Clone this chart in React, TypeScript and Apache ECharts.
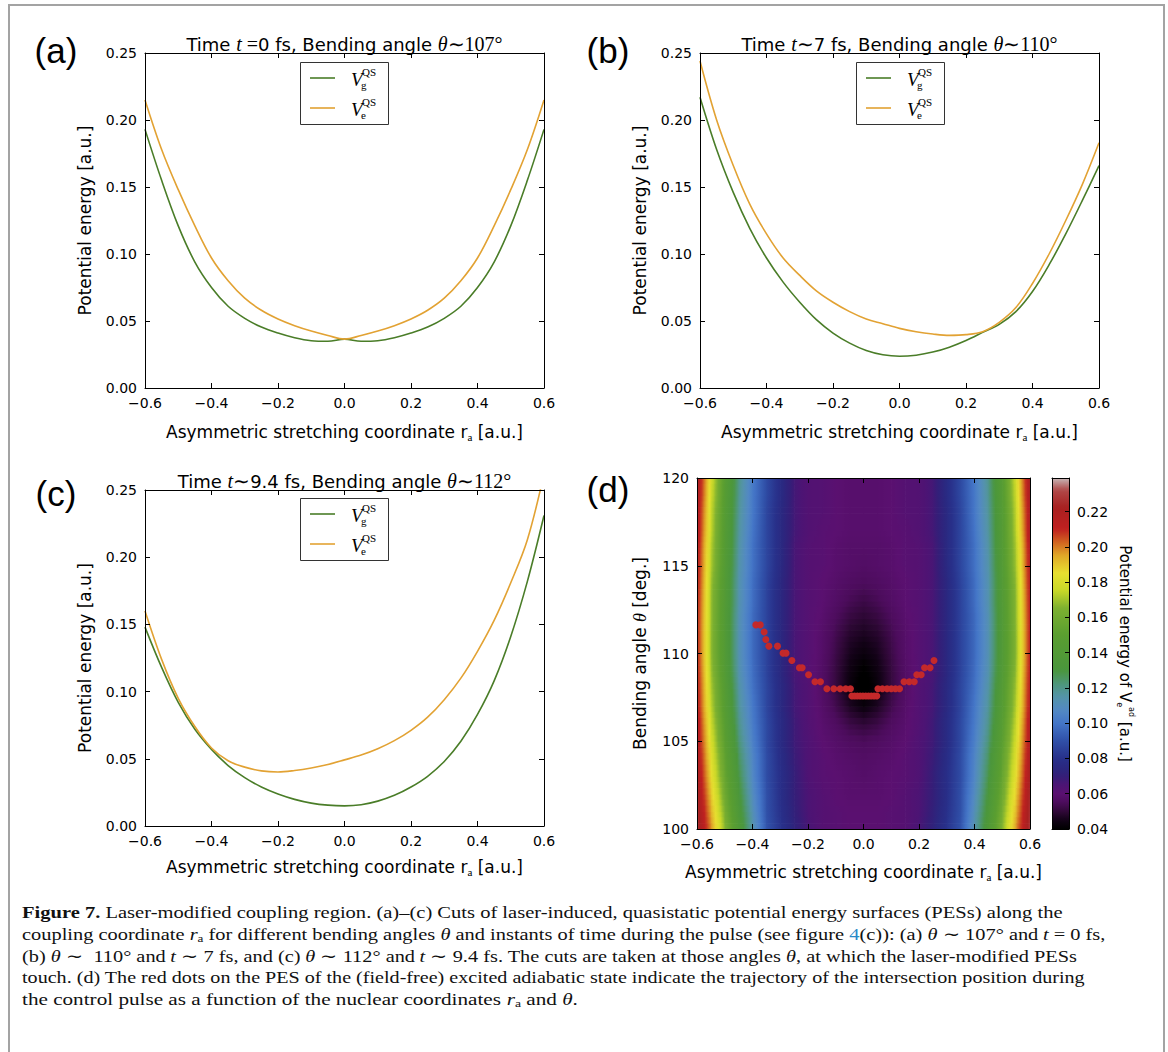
import React, { useEffect, useRef } from "react";
import * as echarts from "echarts";

// ------------------------------------------------------------------ data
const raGrid = [-0.6, -0.55, -0.5, -0.45, -0.4, -0.35, -0.3, -0.25, -0.2, -0.15, -0.1, -0.05, 0, 0.05, 0.1, 0.15, 0.2, 0.25, 0.3, 0.35, 0.4, 0.45, 0.5, 0.55, 0.6];

const panelAGround = [0.193, 0.155, 0.121, 0.094, 0.075, 0.061, 0.052, 0.0455, 0.041, 0.0375, 0.0353, 0.0349, 0.0365, 0.0349, 0.0353, 0.0375, 0.041, 0.0455, 0.052, 0.061, 0.075, 0.094, 0.121, 0.155, 0.193];
const panelAExcited = [0.215, 0.178, 0.148, 0.121, 0.097, 0.08, 0.067, 0.058, 0.0515, 0.0465, 0.0425, 0.0392, 0.0365, 0.0392, 0.0425, 0.0465, 0.0515, 0.058, 0.067, 0.08, 0.097, 0.121, 0.148, 0.178, 0.215];

const panelBGround = [0.217, 0.178, 0.146, 0.119, 0.097, 0.079, 0.064, 0.051, 0.041, 0.0335, 0.028, 0.0248, 0.0237, 0.0245, 0.0268, 0.0305, 0.0355, 0.0415, 0.0475, 0.057, 0.072, 0.092, 0.115, 0.14, 0.166];
const panelBExcited = [0.244, 0.2, 0.166, 0.137, 0.115, 0.097, 0.084, 0.0725, 0.064, 0.057, 0.0515, 0.048, 0.0445, 0.042, 0.0403, 0.0393, 0.0398, 0.042, 0.049, 0.06, 0.078, 0.1, 0.125, 0.152, 0.183];

const panelCGround = [0.148, 0.118, 0.092, 0.072, 0.057, 0.045, 0.036, 0.029, 0.0238, 0.0198, 0.017, 0.0155, 0.015, 0.0158, 0.0185, 0.0228, 0.029, 0.037, 0.048, 0.063, 0.083, 0.108, 0.141, 0.182, 0.231];
const panelCExcited = [0.16, 0.124, 0.095, 0.074, 0.058, 0.0485, 0.0438, 0.041, 0.0402, 0.0413, 0.0432, 0.0458, 0.0492, 0.0528, 0.0575, 0.0635, 0.0712, 0.081, 0.094, 0.11, 0.13, 0.153, 0.181, 0.213, 0.262];

const thetaRows = [100, 101, 102, 103, 104, 105, 106, 107, 108, 109, 110, 111, 112, 113, 114, 115, 116, 117, 118, 119, 120];
const peExcited = [
  [0.228, 0.198, 0.166, 0.138, 0.114, 0.091, 0.081, 0.072, 0.066, 0.062, 0.061, 0.06, 0.06, 0.06, 0.061, 0.062, 0.066, 0.072, 0.081, 0.091, 0.114, 0.138, 0.166, 0.198, 0.228],
  [0.226, 0.194, 0.163, 0.135, 0.112, 0.09, 0.08, 0.071, 0.065, 0.062, 0.061, 0.06, 0.06, 0.06, 0.061, 0.062, 0.065, 0.071, 0.08, 0.09, 0.112, 0.135, 0.163, 0.194, 0.226],
  [0.224, 0.19, 0.159, 0.132, 0.109, 0.09, 0.079, 0.07, 0.065, 0.062, 0.06, 0.059, 0.059, 0.059, 0.06, 0.062, 0.065, 0.07, 0.079, 0.09, 0.109, 0.132, 0.159, 0.19, 0.224],
  [0.222, 0.186, 0.156, 0.129, 0.107, 0.089, 0.079, 0.07, 0.064, 0.061, 0.06, 0.059, 0.058, 0.059, 0.06, 0.061, 0.064, 0.07, 0.079, 0.089, 0.107, 0.129, 0.156, 0.186, 0.222],
  [0.22, 0.183, 0.153, 0.126, 0.106, 0.089, 0.078, 0.069, 0.064, 0.061, 0.059, 0.058, 0.057, 0.058, 0.059, 0.061, 0.064, 0.069, 0.078, 0.089, 0.106, 0.126, 0.153, 0.183, 0.22],
  [0.218, 0.18, 0.15, 0.123, 0.104, 0.088, 0.077, 0.068, 0.064, 0.06, 0.058, 0.056, 0.055, 0.056, 0.058, 0.06, 0.064, 0.068, 0.077, 0.088, 0.104, 0.123, 0.15, 0.18, 0.218],
  [0.217, 0.177, 0.147, 0.12, 0.102, 0.088, 0.077, 0.068, 0.063, 0.059, 0.056, 0.052, 0.05, 0.052, 0.056, 0.059, 0.063, 0.068, 0.077, 0.088, 0.102, 0.12, 0.147, 0.177, 0.217],
  [0.215, 0.174, 0.145, 0.118, 0.101, 0.087, 0.076, 0.067, 0.063, 0.058, 0.053, 0.047, 0.043, 0.047, 0.053, 0.058, 0.063, 0.067, 0.076, 0.087, 0.101, 0.118, 0.145, 0.174, 0.215],
  [0.214, 0.172, 0.143, 0.116, 0.099, 0.087, 0.076, 0.067, 0.063, 0.057, 0.051, 0.043, 0.037, 0.043, 0.051, 0.057, 0.063, 0.067, 0.076, 0.087, 0.099, 0.116, 0.143, 0.172, 0.214],
  [0.213, 0.17, 0.141, 0.114, 0.098, 0.086, 0.075, 0.066, 0.062, 0.057, 0.051, 0.044, 0.039, 0.044, 0.051, 0.057, 0.062, 0.066, 0.075, 0.086, 0.098, 0.114, 0.141, 0.17, 0.213],
  [0.212, 0.168, 0.14, 0.113, 0.097, 0.086, 0.075, 0.066, 0.062, 0.058, 0.052, 0.046, 0.043, 0.046, 0.052, 0.058, 0.062, 0.066, 0.075, 0.086, 0.097, 0.113, 0.14, 0.168, 0.212],
  [0.212, 0.168, 0.14, 0.113, 0.097, 0.086, 0.075, 0.066, 0.062, 0.058, 0.053, 0.048, 0.046, 0.048, 0.053, 0.058, 0.062, 0.066, 0.075, 0.086, 0.097, 0.113, 0.14, 0.168, 0.212],
  [0.212, 0.169, 0.14, 0.113, 0.097, 0.086, 0.075, 0.066, 0.062, 0.059, 0.055, 0.051, 0.049, 0.051, 0.055, 0.059, 0.062, 0.066, 0.075, 0.086, 0.097, 0.113, 0.14, 0.169, 0.212],
  [0.213, 0.169, 0.141, 0.114, 0.098, 0.086, 0.075, 0.066, 0.062, 0.06, 0.057, 0.054, 0.052, 0.054, 0.057, 0.06, 0.062, 0.066, 0.075, 0.086, 0.098, 0.114, 0.141, 0.169, 0.213],
  [0.214, 0.17, 0.141, 0.114, 0.098, 0.086, 0.075, 0.066, 0.062, 0.06, 0.058, 0.056, 0.055, 0.056, 0.058, 0.06, 0.062, 0.066, 0.075, 0.086, 0.098, 0.114, 0.141, 0.17, 0.214],
  [0.215, 0.172, 0.142, 0.115, 0.099, 0.087, 0.076, 0.066, 0.062, 0.061, 0.059, 0.058, 0.057, 0.058, 0.059, 0.061, 0.062, 0.066, 0.076, 0.087, 0.099, 0.115, 0.142, 0.172, 0.215],
  [0.216, 0.173, 0.143, 0.116, 0.099, 0.087, 0.076, 0.066, 0.062, 0.061, 0.059, 0.058, 0.058, 0.058, 0.059, 0.061, 0.062, 0.066, 0.076, 0.087, 0.099, 0.116, 0.143, 0.173, 0.216],
  [0.218, 0.175, 0.143, 0.117, 0.1, 0.087, 0.076, 0.067, 0.063, 0.061, 0.06, 0.059, 0.059, 0.059, 0.06, 0.061, 0.063, 0.067, 0.076, 0.087, 0.1, 0.117, 0.143, 0.175, 0.218],
  [0.219, 0.176, 0.144, 0.118, 0.101, 0.087, 0.076, 0.067, 0.063, 0.062, 0.06, 0.059, 0.059, 0.059, 0.06, 0.062, 0.063, 0.067, 0.076, 0.087, 0.101, 0.118, 0.144, 0.176, 0.219],
  [0.221, 0.178, 0.145, 0.119, 0.101, 0.088, 0.077, 0.067, 0.063, 0.062, 0.06, 0.059, 0.059, 0.059, 0.06, 0.062, 0.063, 0.067, 0.077, 0.088, 0.101, 0.119, 0.145, 0.178, 0.221],
  [0.222, 0.18, 0.146, 0.12, 0.102, 0.088, 0.077, 0.067, 0.063, 0.062, 0.06, 0.059, 0.059, 0.059, 0.06, 0.062, 0.063, 0.067, 0.077, 0.088, 0.102, 0.12, 0.146, 0.18, 0.222],
];

const dotRa = [-0.388, -0.372, -0.358, -0.352, -0.341, -0.31, -0.29, -0.279, -0.258, -0.231, -0.221, -0.198, -0.175, -0.155, -0.132, -0.107, -0.084, -0.064, -0.047,
  -0.042, -0.032, -0.022, -0.012, -0.002, 0.008, 0.018, 0.028, 0.038, 0.048,
  0.052, 0.068, 0.085, 0.1, 0.115, 0.13, 0.146, 0.165, 0.183, 0.192, 0.208, 0.22, 0.24, 0.254];
const dotTheta = [111.63, 111.63, 111.23, 110.8, 110.42, 110.42, 110.02, 110.02, 109.6, 109.19, 109.19, 108.79, 108.39, 108.39, 107.99, 107.99, 107.99, 107.99, 107.99,
  107.58, 107.58, 107.58, 107.58, 107.58, 107.58, 107.58, 107.58, 107.58, 107.58,
  107.99, 107.99, 107.99, 107.99, 107.99, 107.99, 108.39, 108.39, 108.39, 108.79, 108.79, 109.19, 109.19, 109.6];

const colorbarTicks = [0.04, 0.06, 0.08, 0.1, 0.12, 0.14, 0.16, 0.18, 0.2, 0.22];
const CB_MIN = 0.04;
const CB_MAX = 0.239;

// ------------------------------------------------------------------ style
const FONT = "DejaVu Sans";
const SERIF = "Liberation Serif";
const GREEN = "#4a7d28";
const ORANGE = "#e2a233";
const BLACK = "#000000";
const DOT = "#c4292a";

const CMAP: [number, string][] = [
  [0.04, "#000000"], [0.045, "#120216"], [0.05, "#300838"], [0.055, "#4c0c5c"], [0.06, "#5a1070"],
  [0.065, "#4c1474"], [0.07, "#341e78"], [0.075, "#2a2880"], [0.08, "#28308a"], [0.09, "#3050a8"],
  [0.1, "#4476c8"], [0.107, "#5288c4"], [0.115, "#5494a8"], [0.122, "#4e967c"], [0.13, "#4a963c"],
  [0.15, "#5a9e30"], [0.165, "#7cb030"], [0.175, "#c8d828"], [0.185, "#e8e030"], [0.195, "#e0a828"],
  [0.203, "#d06020"], [0.21, "#c02020"], [0.222, "#a82020"], [0.232, "#b04848"], [0.239, "#c8b8b8"],
];
const CMAP_RGB = CMAP.map(([v, c]) => [v, [parseInt(c.slice(1, 3), 16), parseInt(c.slice(3, 5), 16), parseInt(c.slice(5, 7), 16)]] as [number, number[]]);
function cmap(v: number): string {
  const s = CMAP_RGB;
  const toStr = (c: number[]) => `rgb(${Math.round(c[0])},${Math.round(c[1])},${Math.round(c[2])})`;
  if (v <= s[0][0]) return toStr(s[0][1]);
  for (let k = 1; k < s.length; k++) {
    if (v <= s[k][0]) {
      const [v0, c0] = s[k - 1];
      const [v1, c1] = s[k];
      const t = (v - v0) / (v1 - v0);
      return toStr([c0[0] + (c1[0] - c0[0]) * t, c0[1] + (c1[1] - c0[1]) * t, c0[2] + (c1[2] - c0[2]) * t]);
    }
  }
  return toStr(s[s.length - 1][1]);
}

const fmtSigned = (d: number) => (v: number) => {
  const p = Math.pow(10, d);
  const r = Math.round(v * p) / p;
  return (r < 0 ? "\u2212" : "") + Math.abs(r).toFixed(d);
};

const tickStyle = { show: true, inside: true, length: 5, lineStyle: { color: BLACK, width: 1 } };
const lineAxis = { show: true, onZero: false, lineStyle: { color: BLACK, width: 1 } };

function axisPair(dim: "x" | "y", gridIndex: number, min: number, max: number, interval: number, fmt: any, name: string, nameGap: number, nameTextStyle: any) {
  const base: any = { gridIndex, type: "value", min, max, interval, z: 10, axisLine: lineAxis, axisTick: tickStyle, splitLine: { show: false } };
  return [
    {
      ...base,
      position: dim === "x" ? "bottom" : "left",
      axisLabel: { show: true, margin: 8, color: BLACK, fontSize: 14, fontFamily: FONT, formatter: fmt },
      name, nameLocation: "middle", nameGap, nameTextStyle,
    },
    { ...base, position: dim === "x" ? "top" : "right", axisLabel: { show: false } },
  ];
}

const xNameText = "{s|Asymmetric stretching coordinate r}{sub|a}{s| [a.u.]}";
const xNameStyle = {
  color: BLACK,
  rich: {
    s: { fontFamily: FONT, fontSize: 17, color: BLACK, lineHeight: 20 },
    sub: { fontFamily: SERIF, fontSize: 11, color: BLACK, lineHeight: 10, verticalAlign: "bottom" },
  },
};
const yNameStyle = { color: BLACK, fontFamily: FONT, fontSize: 17 };

const titleRich = {
  s: { fontFamily: FONT, fontSize: 18, fill: BLACK },
  m: { fontFamily: SERIF, fontStyle: "italic", fontSize: 20, fill: BLACK },
  r: { fontFamily: SERIF, fontSize: 20, fill: BLACK },
};

function textEl(x: number, y: number, text: string, rich: any, align = "center", extra: any = {}) {
  return {
    type: "text", x, y, z: 60, ...extra,
    style: { text, rich, textAlign: align, align, textVerticalAlign: "middle", verticalAlign: "middle", fill: BLACK },
  };
}

function legendEls(x0: number, y0: number) {
  const vStyle = { v: { fontFamily: SERIF, fontStyle: "italic", fontSize: 19, fill: BLACK }, q: { fontFamily: SERIF, fontSize: 11, fill: BLACK } };
  const rows = [{ c: GREEN, sub: "g", dy: 16 }, { c: ORANGE, sub: "e", dy: 46 }];
  const els: any[] = [
    { type: "rect", z: 55, shape: { x: x0 + 0.5, y: y0 + 0.5, width: 88, height: 62 }, style: { fill: "#ffffff", stroke: "#333333", lineWidth: 1 } },
  ];
  rows.forEach((r) => {
    els.push({ type: "line", z: 56, shape: { x1: x0 + 10, y1: y0 + r.dy, x2: x0 + 35, y2: y0 + r.dy }, style: { stroke: r.c, lineWidth: 1.6 } });
    els.push(textEl(x0 + 51, y0 + r.dy + 1, "{v|V}", vStyle, "left"));
    els.push(textEl(x0 + 62, y0 + r.dy - 6, "{q|QS}", vStyle, "left"));
    els.push(textEl(x0 + 61, y0 + r.dy + 7, `{q|${r.sub}}`, vStyle, "left"));
  });
  return els;
}

const capRich: any = {
  n: { fontFamily: SERIF, fontSize: 17, fill: "#111111", lineHeight: 20 },
  b: { fontFamily: SERIF, fontSize: 17, fontWeight: "bold", fill: "#111111", lineHeight: 20 },
  i: { fontFamily: SERIF, fontSize: 17, fontStyle: "italic", fill: "#111111", lineHeight: 20 },
  l: { fontFamily: SERIF, fontSize: 17, fill: "#2a8ac8", lineHeight: 20 },
  sub: { fontFamily: SERIF, fontSize: 11, fill: "#111111", lineHeight: 11, verticalAlign: "bottom" },
};
const captionLines: { y: number; right: number; segs: [string, string][] }[] = [
  { y: 912, right: 1063, segs: [["b", "Figure 7."], ["n", " Laser-modified coupling region. (a)\u2013(c) Cuts of laser-induced, quasistatic potential energy surfaces (PESs) along the"]] },
  { y: 934, right: 1105, segs: [["n", "coupling coordinate "], ["i", "r"], ["sub", "a"], ["n", " for different bending angles "], ["i", "\u03b8"], ["n", " and instants of time during the pulse (see figure "], ["l", "4"], ["n", "(c)): (a) "], ["i", "\u03b8"], ["n", " \u223c 107\u00b0 and "], ["i", "t"], ["n", " = 0 fs,"]] },
  { y: 956, right: 1077, segs: [["n", "(b) "], ["i", "\u03b8"], ["n", " \u223c  110\u00b0 and "], ["i", "t"], ["n", " \u223c 7 fs, and (c) "], ["i", "\u03b8"], ["n", " \u223c 112\u00b0 and "], ["i", "t"], ["n", " \u223c 9.4 fs. The cuts are taken at those angles "], ["i", "\u03b8"], ["n", ", at which the laser-modified PESs"]] },
  { y: 977, right: 1086, segs: [["n", "touch. (d) The red dots on the PES of the (field-free) excited adiabatic state indicate the trajectory of the intersection position during"]] },
  { y: 999, right: 578, segs: [["n", "the control pulse as a function of the nuclear coordinates "], ["i", "r"], ["sub", "a"], ["n", " and "], ["i", "\u03b8"], ["n", "."]] },
];

function measureSegs(segs: [string, string][]) {
  const ctx = document.createElement("canvas").getContext("2d");
  if (!ctx) return 0;
  let w = 0;
  for (const [k, t] of segs) {
    const st = capRich[k];
    ctx.font = `${st.fontStyle || "normal"} ${st.fontWeight || "normal"} ${st.fontSize}px ${st.fontFamily}`;
    w += ctx.measureText(t).width;
  }
  return w;
}

function buildOption() {
  const grids = [
    { left: 145, top: 53, width: 399, height: 335 },
    { left: 700, top: 53, width: 399, height: 335 },
    { left: 145, top: 490, width: 399, height: 336 },
    { left: 697, top: 478, width: 333, height: 351 },
    { left: 1052, top: 478, width: 17, height: 351 },
  ].map((g) => ({ ...g, show: false, outerBoundsMode: "none", containLabel: false }));

  const fx = fmtSigned(1);
  const fy = fmtSigned(2);
  const xAxis: any[] = [
    ...axisPair("x", 0, -0.6, 0.6, 0.2, fx, xNameText, 34, xNameStyle),
    ...axisPair("x", 1, -0.6, 0.6, 0.2, fx, xNameText, 34, xNameStyle),
    ...axisPair("x", 2, -0.6, 0.6, 0.2, fx, xNameText, 31, xNameStyle),
    ...axisPair("x", 3, -0.6, 0.6, 0.2, fx, xNameText, 33, xNameStyle),
    { gridIndex: 4, type: "value", min: 0, max: 1, position: "bottom", z: 10, axisLine: lineAxis, axisTick: { show: false }, axisLabel: { show: false }, splitLine: { show: false } },
    { gridIndex: 4, type: "value", min: 0, max: 1, position: "top", z: 10, axisLine: lineAxis, axisTick: { show: false }, axisLabel: { show: false }, splitLine: { show: false } },
  ];
  const thetaName = "{s|Bending angle }{m|\u03b8}{s| [deg.]}";
  const thetaNameStyle = {
    color: BLACK,
    rich: {
      s: { fontFamily: FONT, fontSize: 17, color: BLACK },
      m: { fontFamily: SERIF, fontStyle: "italic", fontSize: 18, color: BLACK },
    },
  };
  const yAxis: any[] = [
    ...axisPair("y", 0, 0, 0.25, 0.05, fy, "Potential energy [a.u.]", 52, yNameStyle),
    ...axisPair("y", 1, 0, 0.25, 0.05, fy, "Potential energy [a.u.]", 52, yNameStyle),
    ...axisPair("y", 2, 0, 0.25, 0.05, fy, "Potential energy [a.u.]", 52, yNameStyle),
    ...axisPair("y", 3, 100, 120, 5, (v: number) => String(Math.round(v)), thetaName, 48, thetaNameStyle),
    { gridIndex: 4, type: "value", min: CB_MIN, max: CB_MAX, position: "left", z: 10, axisLine: lineAxis, axisTick: { show: false }, axisLabel: { show: false }, splitLine: { show: false } },
    {
      gridIndex: 4, type: "value", min: CB_MIN, max: CB_MAX, position: "right", z: 10,
      axisLine: lineAxis,
      axisTick: { ...tickStyle, length: 4, customValues: colorbarTicks },
      axisLabel: { show: true, margin: 8, color: BLACK, fontSize: 14, fontFamily: FONT, formatter: (v: number) => v.toFixed(2), customValues: colorbarTicks },
      splitLine: { show: false },
      name: "{s|Potential energy of V}{sub|e}{sup|ad}{s| [a.u.]}",
      nameLocation: "middle", nameRotate: -90, nameGap: 46,
      nameTextStyle: {
        color: BLACK,
        rich: {
          s: { fontFamily: FONT, fontSize: 15, color: BLACK, lineHeight: 20 },
          sub: { fontFamily: FONT, fontSize: 8, color: BLACK, lineHeight: 8, verticalAlign: "bottom" },
          sup: { fontFamily: FONT, fontSize: 8, color: BLACK, lineHeight: 8, verticalAlign: "top" },
        },
      },
    },
  ];

  const lineSeries = (name: string, gi: number, values: number[], color: string) => ({
    name, type: "line", xAxisIndex: gi * 2, yAxisIndex: gi * 2, smooth: 0.35, symbol: "none", clip: true,
    lineStyle: { color, width: 1.6 }, itemStyle: { color },
    data: raGrid.map((r, i) => [r, values[i]]),
  });

  // one item per grid cell: corners (ra_i, theta_j) .. (ra_i+1, theta_j+1) with their four sampled values
  const heatData: number[][] = [];
  for (let j = 0; j < thetaRows.length - 1; j++) {
    for (let i = 0; i < raGrid.length - 1; i++) {
      heatData.push([raGrid[i], thetaRows[j], raGrid[i + 1], thetaRows[j + 1],
        peExcited[j][i], peExcited[j][i + 1], peExcited[j + 1][i], peExcited[j + 1][i + 1]]);
    }
  }

  const series: any[] = [
    lineSeries("Vg QS (a)", 0, panelAGround, GREEN),
    lineSeries("Ve QS (a)", 0, panelAExcited, ORANGE),
    lineSeries("Vg QS (b)", 1, panelBGround, GREEN),
    lineSeries("Ve QS (b)", 1, panelBExcited, ORANGE),
    lineSeries("Vg QS (c)", 2, panelCGround, GREEN),
    lineSeries("Ve QS (c)", 2, panelCExcited, ORANGE),
    {
      name: "Ve ad", type: "custom", xAxisIndex: 6, yAxisIndex: 6, silent: true, z: 1,
      encode: { x: [0, 2], y: [1, 3] },
      data: heatData,
      renderItem: (params: any, api: any) => {
        const cs = params.coordSys;
        const ra0 = api.value(0), th0 = api.value(1), ra1 = api.value(2), th1 = api.value(3);
        const v00 = api.value(4), v01 = api.value(5), v10 = api.value(6), v11 = api.value(7);
        const pA = api.coord([ra0, th1]);
        const pB = api.coord([ra1, th0]);
        const x0 = pA[0];
        const x1 = Math.min(pB[0] + 0.7, cs.x + cs.width);
        const N = 3;
        const h = (pB[1] - pA[1]) / N;
        const children: any[] = [];
        for (let s = 0; s < N; s++) {
          const t = (s + 0.5) / N; // fraction from the top (th1) downwards
          const left = v10 * (1 - t) + v00 * t;
          const right = v11 * (1 - t) + v01 * t;
          const stops = [];
          for (let k = 0; k <= 6; k++) { const u = k / 6; stops.push({ offset: u, color: cmap(left + (right - left) * u) }); }
          const y0 = pA[1] + s * h;
          const y1 = Math.min(y0 + h + 0.7, cs.y + cs.height);
          children.push({ type: "rect", shape: { x: x0, y: y0, width: x1 - x0, height: y1 - y0 }, style: { fill: new echarts.graphic.LinearGradient(0, 0, 1, 0, stops) } });
        }
        return { type: "group", children };
      },
    },
    {
      name: "intersection trajectory", type: "scatter", xAxisIndex: 6, yAxisIndex: 6, z: 5,
      symbol: "circle", symbolSize: 7, itemStyle: { color: DOT, opacity: 1 },
      data: dotRa.map((r, i) => [r, dotTheta[i]]),
    },
    {
      name: "colorbar", type: "custom", xAxisIndex: 8, yAxisIndex: 8, silent: true, z: 1,
      encode: { x: [0, 2], y: [1, 3] },
      data: [[0, CB_MIN, 1, CB_MAX]],
      renderItem: (params: any, api: any) => {
        const p0 = api.coord([api.value(0), api.value(3)]);
        const p1 = api.coord([api.value(2), api.value(1)]);
        const stops = [];
        for (let k = 0; k <= 100; k++) { const t = k / 100; stops.push({ offset: t, color: cmap(CB_MAX - (CB_MAX - CB_MIN) * t) }); }
        return { type: "rect", shape: { x: p0[0], y: p0[1], width: p1[0] - p0[0], height: p1[1] - p0[1] }, style: { fill: new echarts.graphic.LinearGradient(0, 0, 0, 1, stops) } };
      },
    },
  ];

  const panelLabelRich = { p: { fontFamily: "Liberation Sans", fontSize: 35, fill: BLACK } };
  const graphic: any[] = [
    { type: "rect", z: 0, shape: { x: 9, y: 5, width: 1155, height: 1100 }, style: { fill: "none", stroke: "#a3a3a3", lineWidth: 2 } },
    textEl(56, 50, "{p|(a)}", panelLabelRich),
    textEl(608, 50, "{p|(b)}", panelLabelRich),
    textEl(56, 493, "{p|(c)}", panelLabelRich),
    textEl(608, 489, "{p|(d)}", panelLabelRich),
    textEl(344.5, 44, "{s|Time }{m|t}{r| =}{s|0 fs, Bending angle }{m|\u03b8}{r|\u223c107\u00b0}", titleRich),
    textEl(899.5, 44, "{s|Time }{m|t}{r|\u223c}{s|7 fs, Bending angle }{m|\u03b8}{r|\u223c110\u00b0}", titleRich),
    textEl(344.5, 481, "{s|Time }{m|t}{r|\u223c}{s|9.4 fs, Bending angle }{m|\u03b8}{r|\u223c112\u00b0}", titleRich),
    ...legendEls(300, 62),
    ...legendEls(856, 62),
    ...legendEls(300, 498),
  ];
  captionLines.forEach((ln) => {
    const w = measureSegs(ln.segs);
    const sx = w > 0 ? (ln.right - 22) / w : 1;
    graphic.push({
      type: "text", x: 22, y: ln.y, scaleX: sx, z: 60,
      style: { text: ln.segs.map(([k, t]) => `{${k}|${t}}`).join(""), rich: capRich, textAlign: "left", align: "left", textVerticalAlign: "middle", verticalAlign: "middle" },
    });
  });

  return { animation: false, backgroundColor: "#ffffff", grid: grids, xAxis, yAxis, series, graphic };
}

export default function App() {
  const ref = useRef<HTMLDivElement>(null);
  useEffect(() => {
    if (!ref.current) return;
    const chart = echarts.init(ref.current, undefined, { renderer: "svg" });
    chart.setOption(buildOption() as any);
    return () => chart.dispose();
  }, []);
  return <div ref={ref} style={{ position: "absolute", left: 0, top: 0, width: 1168, height: 1052 }} />;
}
